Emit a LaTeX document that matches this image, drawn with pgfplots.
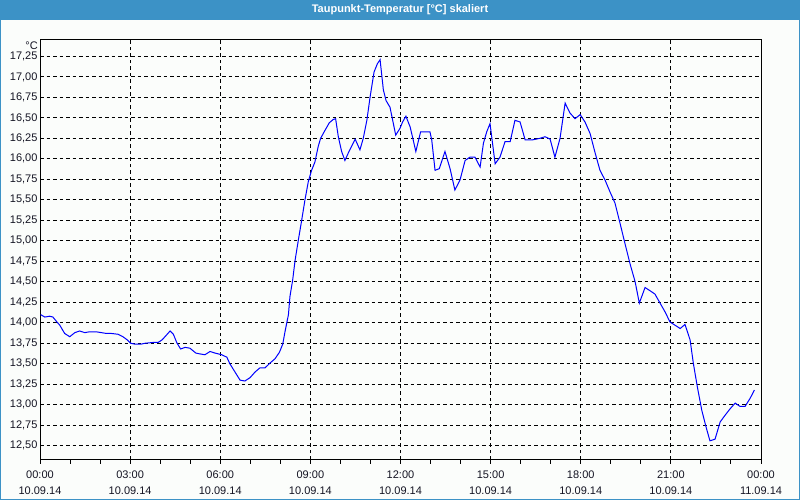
\documentclass[border=0pt]{standalone}
\usepackage{fontspec}
\setmainfont{Liberation Sans}
\usepackage{pgfplots}
\pgfplotsset{compat=1.18}
\usetikzlibrary{backgrounds}
\definecolor{barblue}{RGB}{60,146,198}
\definecolor{bgc}{RGB}{251,253,251}
\definecolor{lblc}{RGB}{20,20,35}
\begin{document}
\begin{tikzpicture}
\begin{axis}[
  name=ax, scale only axis,
  width=721pt, height=420pt,
  xmin=0, xmax=24, ymin=12.326, ymax=17.45,
  axis line style={black, line width=1pt},
  /pgf/number format/assume math mode=true,
  xtick={0,3,...,24},
  xticklabels={00:00\\10.09.14,03:00\\10.09.14,06:00\\10.09.14,09:00\\10.09.14,12:00\\10.09.14,15:00\\10.09.14,18:00\\10.09.14,21:00\\10.09.14,00:00\\11.09.14},
  xticklabel style={align=center, font=\fontsize{11}{16}\selectfont, text=lblc, yshift=-3.5pt},
  minor x tick num=2,
  xtick pos=bottom, xtick align=outside,
  major tick length=4pt, minor tick length=4pt,
  tick style={black, line width=1pt},
  ytick={12.5,12.75,...,17.3},
  ytick pos=left, ytick style={draw=none},
  yticklabel={\pgfmathprintnumber[fixed,fixed zerofill,precision=2,use comma]{\tick}},
  yticklabel style={font=\fontsize{11}{12}\selectfont, text=lblc, xshift=1pt},
  grid=major,
  major grid style={black, line width=1pt, dash pattern=on 3.5pt off 3pt},
  clip=true,
]
\addplot[blue, line width=1pt] table[row sep=\\] {
x y\\
0.02 14.10\\ 0.16 14.07\\ 0.32 14.08\\ 0.43 14.07\\ 0.54 14.02\\ 0.66 13.97\\ 0.82 13.87\\ 0.99 13.83\\
1.16 13.88\\ 1.32 13.90\\ 1.49 13.88\\ 1.65 13.89\\ 1.87 13.89\\ 2.04 13.88\\ 2.21 13.87\\ 2.37 13.87\\
2.60 13.86\\ 2.76 13.83\\ 2.91 13.79\\ 3.02 13.75\\ 3.15 13.74\\ 3.37 13.74\\ 3.49 13.75\\ 3.76 13.76\\
3.93 13.76\\ 4.06 13.79\\ 4.16 13.83\\ 4.33 13.90\\ 4.44 13.86\\ 4.55 13.76\\ 4.68 13.68\\ 4.83 13.70\\
4.99 13.69\\ 5.19 13.63\\ 5.33 13.62\\ 5.49 13.61\\ 5.66 13.65\\ 5.83 13.63\\ 6.05 13.61\\ 6.22 13.58\\
6.32 13.50\\ 6.49 13.40\\ 6.66 13.30\\ 6.82 13.29\\ 6.99 13.33\\ 7.16 13.40\\ 7.32 13.45\\ 7.49 13.45\\
7.66 13.51\\ 7.82 13.56\\ 7.97 13.64\\ 8.08 13.74\\ 8.16 13.90\\ 8.27 14.10\\ 8.32 14.32\\ 8.41 14.52\\
8.49 14.76\\ 8.60 15.01\\ 8.71 15.25\\ 8.82 15.50\\ 8.93 15.72\\ 9.04 15.86\\ 9.15 15.96\\ 9.26 16.15\\
9.34 16.25\\ 9.49 16.35\\ 9.63 16.44\\ 9.76 16.48\\ 9.84 16.49\\ 9.93 16.27\\ 10.04 16.09\\ 10.15 15.98\\
10.26 16.07\\ 10.49 16.24\\ 10.65 16.11\\ 10.76 16.25\\ 10.88 16.47\\ 10.99 16.76\\ 11.12 17.06\\ 11.23 17.16\\
11.32 17.21\\ 11.43 16.84\\ 11.52 16.71\\ 11.65 16.63\\ 11.74 16.47\\ 11.84 16.29\\ 11.98 16.37\\ 12.07 16.45\\
12.18 16.52\\ 12.32 16.39\\ 12.41 16.25\\ 12.51 16.09\\ 12.67 16.33\\ 12.98 16.33\\ 13.04 16.23\\ 13.15 15.86\\
13.29 15.88\\ 13.48 16.09\\ 13.65 15.88\\ 13.81 15.62\\ 13.98 15.74\\ 14.15 15.98\\ 14.31 16.02\\ 14.48 16.02\\
14.65 15.90\\ 14.76 16.19\\ 14.87 16.33\\ 14.98 16.43\\ 15.15 15.94\\ 15.31 16.02\\ 15.48 16.21\\ 15.65 16.21\\
15.81 16.47\\ 15.98 16.45\\ 16.15 16.23\\ 16.37 16.23\\ 16.64 16.25\\ 16.81 16.27\\ 16.98 16.24\\ 17.14 16.02\\
17.31 16.25\\ 17.48 16.68\\ 17.64 16.56\\ 17.81 16.49\\ 17.98 16.54\\ 18.14 16.45\\ 18.31 16.31\\ 18.48 16.07\\
18.64 15.86\\ 18.81 15.74\\ 18.97 15.60\\ 19.14 15.46\\ 19.31 15.21\\ 19.47 14.97\\ 19.64 14.72\\ 19.81 14.50\\
19.95 14.24\\ 20.14 14.43\\ 20.31 14.39\\ 20.47 14.35\\ 20.64 14.24\\ 20.81 14.13\\ 20.97 14.01\\ 21.14 13.97\\
21.31 13.93\\ 21.47 13.98\\ 21.64 13.79\\ 21.75 13.50\\ 21.88 13.22\\ 22.03 12.93\\ 22.17 12.73\\ 22.30 12.56\\
22.47 12.58\\ 22.64 12.79\\ 22.80 12.87\\ 22.97 12.95\\ 23.14 13.02\\ 23.30 12.98\\ 23.47 12.98\\ 23.64 13.08\\
23.78 13.18\\
};
\end{axis}
\coordinate (O) at ([shift={(-40pt,-40pt)}]ax.south west);
\begin{pgfonlayer}{background}
\fill[bgc] (O) rectangle ++(800pt,500pt);
\fill[barblue] ([yshift=480pt]O) rectangle ++(800pt,20pt);
\draw[barblue, line width=1pt] ([shift={(0.5pt,0.5pt)}]O) rectangle ++(799pt,499pt);
\end{pgfonlayer}
\node[anchor=north east, font=\fontsize{11}{12}\selectfont, text=lblc, inner sep=0pt] at ([shift={(-2pt,-1.5pt)}]ax.north west) {°C};
\node[text=white, font=\bfseries\fontsize{11}{13}\selectfont] at ([shift={(400pt,490pt)}]O) {Taupunkt-Temperatur [°C] skaliert};
\pgfresetboundingbox
\path[use as bounding box] (O) rectangle ++(800pt,500pt);
\end{tikzpicture}
\end{document}
